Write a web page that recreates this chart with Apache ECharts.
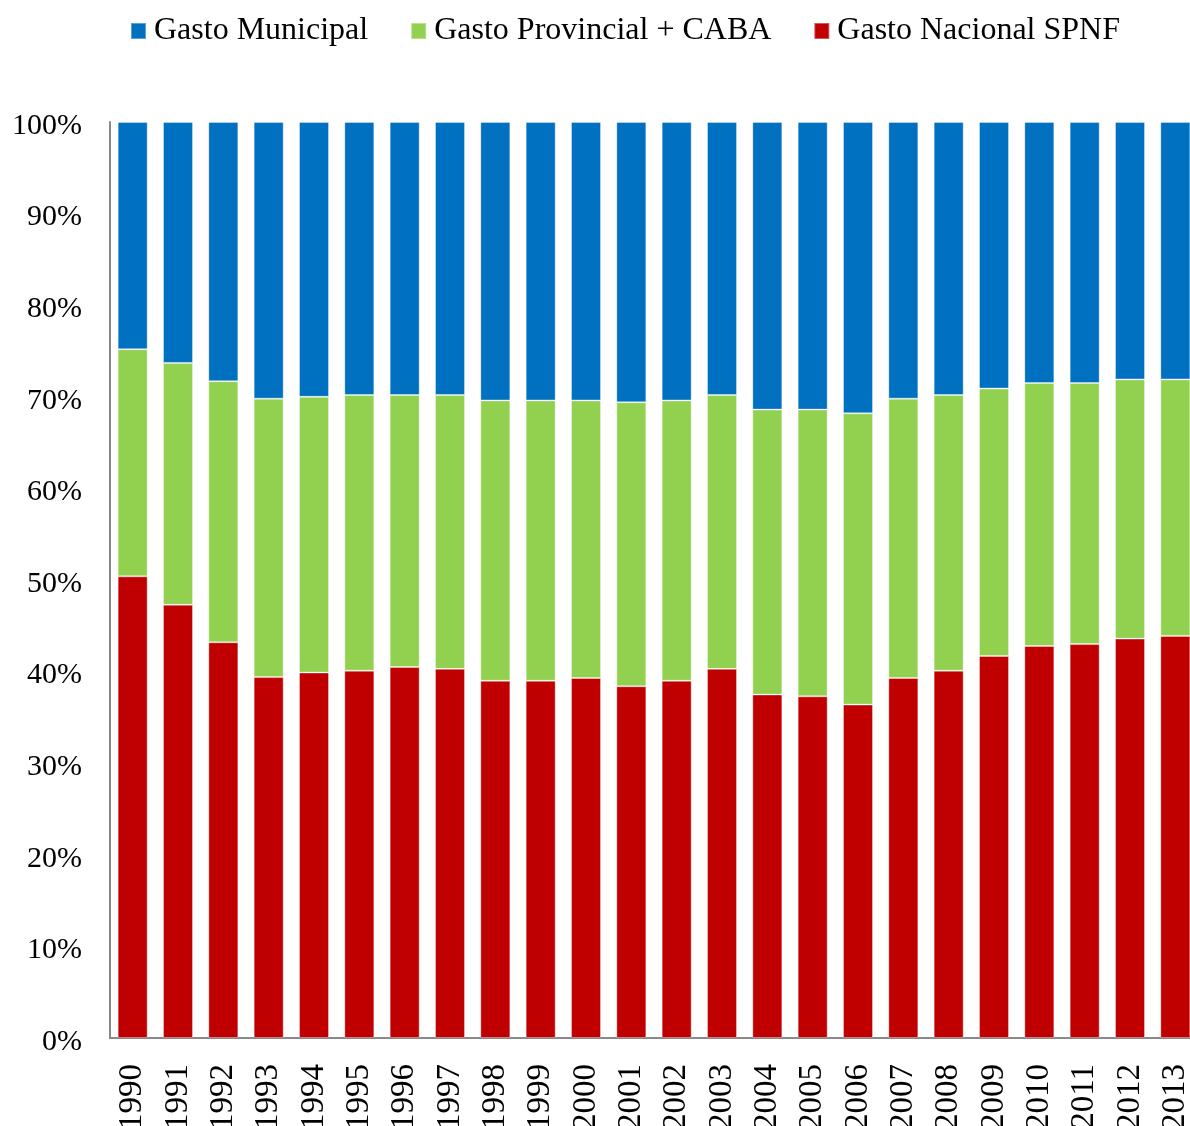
<!DOCTYPE html>
<html>
<head>
<meta charset="utf-8">
<script src="https://cdn.jsdelivr.net/npm/echarts@6/dist/echarts.min.js"></script>
<style>html,body{margin:0;padding:0;background:#fff}#c{width:1190px;height:1126px}</style>
</head>
<body>
<div id="c"></div>
<script>
const years = ['1990','1991','1992','1993','1994','1995','1996','1997','1998','1999','2000','2001','2002','2003','2004','2005','2006','2007','2008','2009','2010','2011','2012','2013'];
const nacional = [50.4,47.3,43.2,39.4,39.9,40.1,40.5,40.3,39.0,39.0,39.3,38.4,39.0,40.3,37.5,37.3,36.4,39.3,40.1,41.7,42.8,43.0,43.6,43.9];
const provincial = [24.8,26.4,28.5,30.4,30.1,30.1,29.7,29.9,30.6,30.6,30.3,31.0,30.6,29.9,31.1,31.3,31.8,30.5,30.1,29.2,28.7,28.5,28.3,28.0];
const municipal = [24.8,26.3,28.3,30.2,30.0,29.8,29.8,29.8,30.4,30.4,30.4,30.6,30.4,29.8,31.4,31.4,31.8,30.2,29.8,29.1,28.5,28.5,28.1,28.1];
const seriesNames = ['Gasto Municipal','Gasto Provincial + CABA','Gasto Nacional SPNF'];
const yTicks = [0,10,20,30,40,50,60,70,80,90,100];

const font = '"Liberation Serif","Times New Roman",serif';
const chart = echarts.init(document.getElementById('c'));
const barCommon = {type:'bar', stack:'total', barWidth: 30, itemStyle:{borderColor:'rgba(255,255,255,0.35)', borderWidth:1}};
chart.setOption({
  animation:false,
  legend:{
    data: seriesNames,
    top: 15, left: 130, padding: 0,
    itemWidth: 15, itemHeight: 16, itemGap: 42,
    icon: 'rect',
    textStyle:{fontFamily:font, fontSize:32, color:'#000', padding:[0,0,0,3]}
  },
  grid:{left:110, top:122, right:-8, bottom:88, outerBoundsMode:'none', containLabel:false},
  xAxis:{
    type:'category', data: years,
    axisLine:{lineStyle:{color:'#888', width:2}},
    axisTick:{show:false},
    axisLabel:{rotate:90, fontFamily:font, fontSize:33, color:'#000', margin:26, interval:0}
  },
  yAxis:{
    type:'value', min:0, max:100, interval:10,
    axisLine:{show:true, lineStyle:{color:'#888', width:2}},
    axisTick:{show:false},
    splitLine:{show:false},
    axisLabel:{fontFamily:font, fontSize:30, color:'#000', margin:28,
      formatter: v => '{a|' + v + '%}',
      rich:{a:{fontFamily:font, fontSize:30, color:'#000', padding:[8,0,0,0]}}}
  },
  series:[
    Object.assign({}, barCommon, {name: seriesNames[2], data: nacional, color:'#C00000', z:3}),
    Object.assign({}, barCommon, {name: seriesNames[1], data: provincial, color:'#92D050', z:2}),
    Object.assign({}, barCommon, {name: seriesNames[0], data: municipal, color:'#0070C0', z:1})
  ]
});
</script>
</body>
</html>
